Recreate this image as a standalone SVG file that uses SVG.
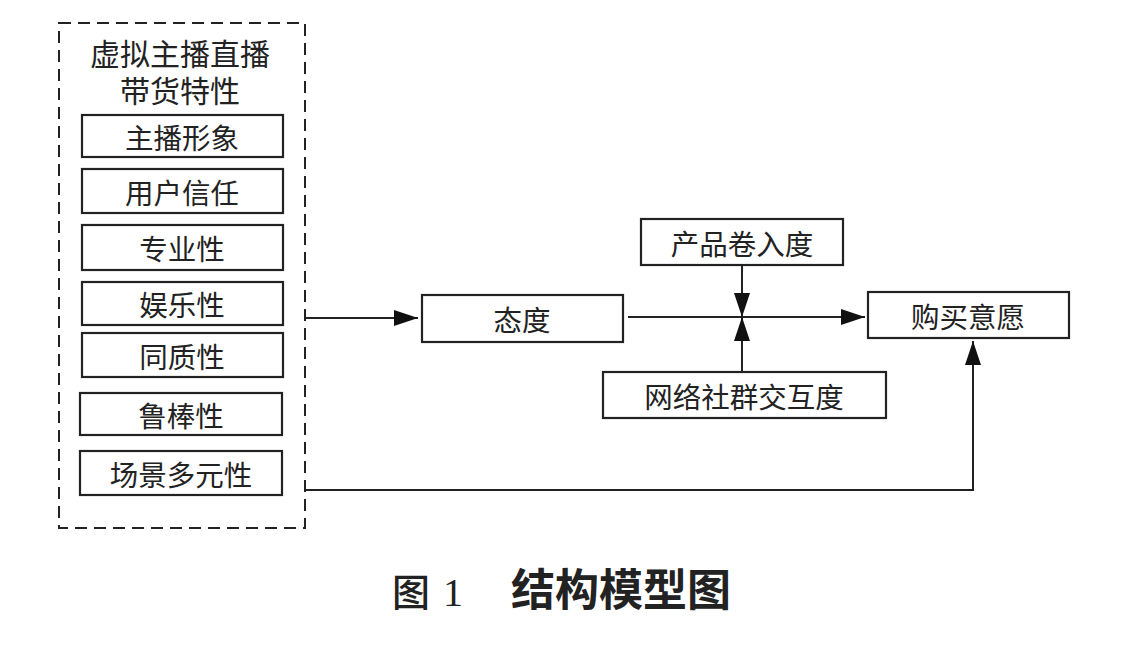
<svg xmlns="http://www.w3.org/2000/svg" width="1126" height="645" viewBox="0 0 1126 645">
<defs>
<style>
.box{fill:#fff;stroke:#222;stroke-width:2.2}
.t{font-family:"Noto Sans CJK SC","Noto Sans",sans-serif;font-size:28.5px;fill:#222;text-anchor:middle;dominant-baseline:central}
.ln{fill:none;stroke:#222;stroke-width:2}
</style>
<marker id="ah" viewBox="0 0 24 16" refX="24" refY="8" markerWidth="24" markerHeight="16" markerUnits="userSpaceOnUse" orient="auto">
<path d="M0,0 L24,8 L0,16 Z" fill="#111"/>
</marker>
</defs>
<rect width="1126" height="645" fill="#fff"/>
<g id="group-features">
<rect x="59" y="23" width="246" height="505" fill="none" stroke="#222" stroke-width="2" stroke-dasharray="12,7"/>
<text class="t" x="180" y="52" style="font-size:30px">虚拟主播直播</text>
<text class="t" x="180" y="89" style="font-size:30px">带货特性</text>
</g>
<g id="n1"><rect class="box" x="82" y="115" width="201" height="42"/><text class="t" x="182" y="136">主播形象</text></g>
<g id="n2"><rect class="box" x="82" y="169" width="201" height="44"/><text class="t" x="182" y="191">用户信任</text></g>
<g id="n3"><rect class="box" x="82" y="225" width="201" height="45"/><text class="t" x="182" y="247">专业性</text></g>
<g id="n4"><rect class="box" x="82" y="282" width="201" height="43"/><text class="t" x="182" y="303">娱乐性</text></g>
<g id="n5"><rect class="box" x="82" y="333" width="201" height="44"/><text class="t" x="182" y="355">同质性</text></g>
<g id="n6"><rect class="box" x="80" y="393" width="202" height="42"/><text class="t" x="181" y="414">鲁棒性</text></g>
<g id="n7"><rect class="box" x="80" y="451" width="202" height="44"/><text class="t" x="181" y="473">场景多元性</text></g>
<g id="attitude"><rect class="box" x="422" y="295" width="201" height="47"/><text class="t" x="522" y="318">态度</text></g>
<g id="involvement"><rect class="box" x="641" y="219" width="202" height="46"/><text class="t" x="742" y="242">产品卷入度</text></g>
<g id="interaction"><rect class="box" x="603" y="372" width="283" height="46"/><text class="t" x="744" y="395">网络社群交互度</text></g>
<g id="intention"><rect class="box" x="868" y="292" width="201" height="46"/><text class="t" x="968" y="315">购买意愿</text></g>
<g id="connectors">
<line class="ln" x1="305" y1="318" x2="418" y2="318" marker-end="url(#ah)"/>
<line class="ln" x1="628" y1="317" x2="865" y2="317" marker-end="url(#ah)"/>
<line class="ln" x1="742" y1="265" x2="742" y2="317" marker-end="url(#ah)"/>
<line class="ln" x1="742" y1="372" x2="742" y2="317" marker-end="url(#ah)"/>
<polyline class="ln" points="305,490 973,490 973,341" marker-end="url(#ah)"/>
</g>
<g id="caption">
<text x="392" y="606" font-family="'Noto Sans CJK SC',sans-serif" font-size="38" font-weight="500" fill="#222">图</text>
<text x="443" y="606" font-family="'Liberation Serif',serif" font-size="40" fill="#222">1</text>
<text x="511" y="606" font-family="'Noto Sans CJK SC',sans-serif" font-size="44" font-weight="bold" fill="#222">结构模型图</text>
</g>
</svg>
